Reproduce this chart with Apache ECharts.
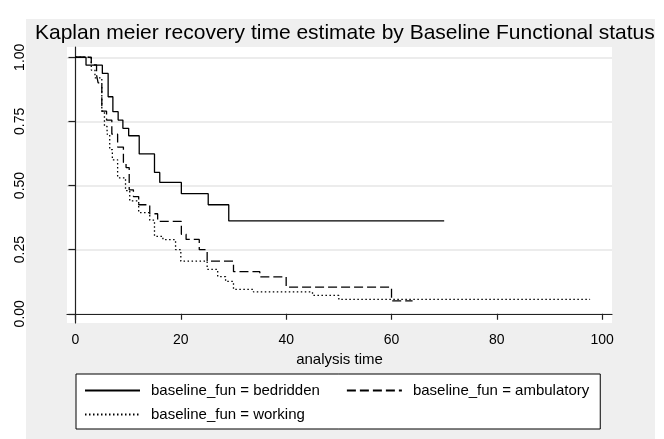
<!DOCTYPE html>
<html>
<head>
<meta charset="utf-8">
<script src="https://cdn.jsdelivr.net/npm/echarts@6/dist/echarts.min.js"></script>
<style>
  html, body { margin: 0; padding: 0; background: #ffffff; }
  #chart { width: 664px; height: 439px; }
</style>
</head>
<body>
<div id="chart"></div>
<script>
// Kaplan-Meier survivor estimates, one step curve per baseline functional status
const titleText = 'Kaplan meier recovery time estimate by Baseline Functional status';
const xAxisTitle = 'analysis time';
const seriesNames = ['baseline_fun = bedridden', 'baseline_fun = ambulatory', 'baseline_fun = working'];
const xTicks = [0, 20, 40, 60, 80, 100];
const yTicks = [0, 0.25, 0.5, 0.75, 1];

const bedriddenTime = [0, 2, 5.1, 6.2, 7.1, 8.1, 9.0, 10.1, 12.1, 15.0, 16.0, 20.1, 25.2, 29.1, 70];
const bedriddenSurv = [1, 0.969, 0.937, 0.846, 0.788, 0.755, 0.723, 0.694, 0.623, 0.551, 0.512, 0.468, 0.425, 0.362, 0.362];

const ambulatoryTime = [0, 3, 4, 4.3, 5, 5.9, 6.9, 8, 9.1, 9.6, 10.2, 11, 12, 14.1, 15.6, 20.1, 21, 23.5, 25, 30, 35, 40, 60, 64];
const ambulatorySurv = [1, 0.97, 0.93, 0.90, 0.79, 0.755, 0.70, 0.65, 0.59, 0.57, 0.483, 0.457, 0.425, 0.39, 0.36, 0.31, 0.29, 0.25, 0.205, 0.164, 0.144, 0.104, 0.05, 0.05];

const workingTime = [0, 3, 3.7, 5, 5.5, 6, 6.5, 7, 8, 9.5, 10.3, 12, 14.1, 15, 16.6, 19, 20, 25, 27, 28.5, 30, 33.8, 45, 50, 97.7];
const workingSurv = [1, 0.95, 0.92, 0.79, 0.73, 0.70, 0.64, 0.60, 0.53, 0.48, 0.44, 0.394, 0.365, 0.302, 0.289, 0.25, 0.205, 0.173, 0.145, 0.126, 0.095, 0.085, 0.072, 0.056, 0.056];

const pairs = (t, s) => t.map((v, i) => [v, s[i]]);

const FONT = '"Liberation Sans", Arial, Helvetica, sans-serif';
const INK = '#000000';

function stepSeries(name, t, s, dash) {
  return {
    name: name,
    type: 'line',
    step: 'end',
    symbol: 'none',
    silent: true,
    data: pairs(t, s),
    lineStyle: { color: INK, width: 1.3, type: dash },
    itemStyle: { color: INK }
  };
}

// legend keys show only the line pattern, no marker
const hiddenMarker = { color: 'rgba(0,0,0,0)', borderColor: 'rgba(0,0,0,0)', borderWidth: 0, opacity: 0 };
const legendText = { fontFamily: FONT, fontSize: 15, color: INK, padding: [0, 0, 0, 6] };

const chart = echarts.init(document.getElementById('chart'), null, { renderer: 'canvas' });

chart.setOption({
  animation: false,
  backgroundColor: '#ffffff',
  textStyle: { fontFamily: FONT },
  graphic: [{
    type: 'rect',
    z: -10,
    silent: true,
    shape: { x: 26, y: 19, width: 629, height: 420 },
    style: { fill: '#efefef' }
  }],
  title: {
    text: titleText,
    left: 35,
    top: 23,
    padding: 0,
    textStyle: { fontFamily: FONT, fontSize: 21, fontWeight: 'normal', color: INK }
  },
  grid: {
    left: 67, right: 52, top: 47, bottom: 116,
    show: true, backgroundColor: '#ffffff', borderWidth: 0
  },
  xAxis: {
    type: 'value',
    min: -1.61, max: 101.86,
    name: xAxisTitle,
    nameLocation: 'middle',
    nameGap: 24,
    nameTextStyle: { fontFamily: FONT, fontSize: 15, color: INK },
    axisLine: { show: true, lineStyle: { color: '#222', width: 1.2 } },
    axisTick: { show: true, length: 6, customValues: xTicks, lineStyle: { color: '#222', width: 1.2 } },
    axisLabel: { customValues: xTicks, margin: 10, fontFamily: FONT, fontSize: 14, color: INK },
    splitLine: { show: false }
  },
  yAxis: {
    type: 'value',
    min: -0.036, max: 1.040,
    axisLine: { show: true, lineStyle: { color: '#222', width: 1.2 } },
    axisTick: { show: true, length: 7, customValues: yTicks, lineStyle: { color: '#222', width: 1.2 } },
    axisLabel: {
      customValues: yTicks, rotate: 90, margin: 40,
      formatter: v => v.toFixed(2),
      fontFamily: FONT, fontSize: 14, color: INK
    },
    splitLine: { show: true, lineStyle: { color: '#e6e6e6', width: 1.5 } }
  },
  legend: [{
    data: [seriesNames[0], seriesNames[1]],
    left: 76, top: 374,
    orient: 'horizontal',
    padding: [9, 11, 31, 8],
    itemWidth: 55, itemHeight: 14, itemGap: 26,
    backgroundColor: '#ffffff', borderColor: INK, borderWidth: 1,
    selectedMode: false,
    itemStyle: hiddenMarker,
    textStyle: legendText
  }, {
    data: [seriesNames[2]],
    left: 84, top: 407,
    padding: 0,
    itemWidth: 55, itemHeight: 14,
    selectedMode: false,
    z: 5,
    itemStyle: hiddenMarker,
    textStyle: legendText
  }],
  series: [
    stepSeries(seriesNames[0], bedriddenTime, bedriddenSurv, 'solid'),
    stepSeries(seriesNames[1], ambulatoryTime, ambulatorySurv, [9, 4]),
    stepSeries(seriesNames[2], workingTime, workingSurv, [1.5, 2.5])
  ]
});
</script>
</body>
</html>
